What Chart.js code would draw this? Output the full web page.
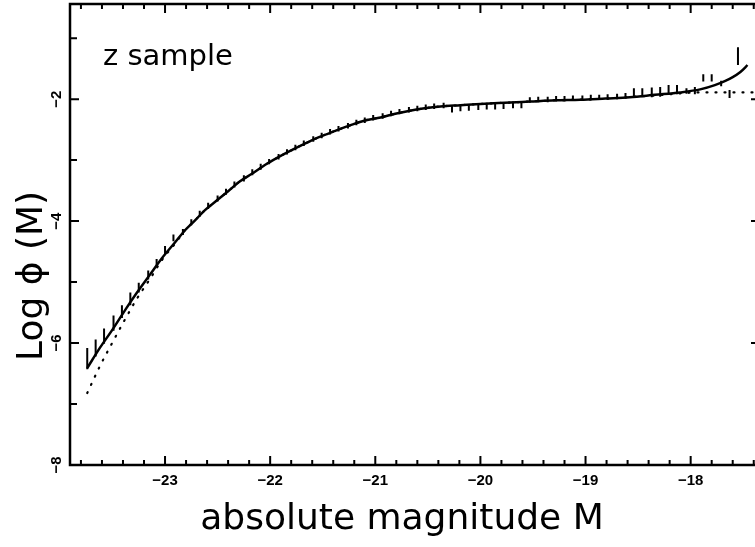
<!DOCTYPE html>
<html>
<head>
<meta charset="utf-8">
<script src="https://cdn.jsdelivr.net/npm/chart.js@4"></script>
<style>
  html, body { margin: 0; padding: 0; background: #fff; }
</style>
</head>
<body>
<canvas id="lf" width="755" height="547"></canvas>
<script>
// binned luminosity function, each bin drawn as a vertical error bar low -> high
const binMag = [-23.74, -23.66, -23.58, -23.49, -23.41, -23.33, -23.25, -23.16, -23.08, -23.00,
  -22.92, -22.83, -22.75, -22.67, -22.59, -22.50, -22.42, -22.34, -22.25, -22.17,
  -22.09, -22.01, -21.92, -21.84, -21.76, -21.68, -21.59, -21.51, -21.43, -21.35,
  -21.26, -21.18, -21.10, -21.02, -20.93, -20.85, -20.77, -20.68, -20.60, -20.52,
  -20.44, -20.35, -20.27, -20.19, -20.11, -20.02, -19.94, -19.86, -19.78, -19.69,
  -19.61, -19.53, -19.45, -19.36, -19.28, -19.20, -19.12, -19.03, -18.95, -18.87,
  -18.79, -18.70, -18.62, -18.54, -18.46, -18.37, -18.29, -18.21, -18.13, -18.04,
  -17.96, -17.88, -17.80, -17.71, -17.63, -17.55];
const binLow = [-6.43, -6.22, -6.01, -5.80, -5.59, -5.38, -5.17, -4.96, -4.75, -4.54,
  -4.33, -4.23, -4.07, -3.93, -3.80, -3.68, -3.57, -3.45, -3.35, -3.25,
  -3.16, -3.07, -2.99, -2.91, -2.84, -2.77, -2.70, -2.64, -2.58, -2.53,
  -2.48, -2.43, -2.39, -2.35, -2.32, -2.28, -2.25, -2.22, -2.20, -2.18,
  -2.16, -2.15, -2.22, -2.20, -2.19, -2.18, -2.17, -2.17, -2.16, -2.15,
  -2.15, -2.06, -2.05, -2.05, -2.04, -2.04, -2.03, -2.03, -2.02, -2.01,
  -2.01, -2.00, -1.99, -1.98, -1.97, -1.97, -1.96, -1.93, -1.92, -1.91,
  -1.92, -1.71, -1.71, -1.79, -1.98, -1.44];
const binHigh = [-6.08, -5.94, -5.76, -5.55, -5.38, -5.17, -5.01, -4.81, -4.62, -4.41,
  -4.22, -4.13, -3.97, -3.83, -3.70, -3.58, -3.47, -3.35, -3.25, -3.15,
  -3.06, -2.98, -2.90, -2.82, -2.75, -2.68, -2.61, -2.55, -2.49, -2.44,
  -2.39, -2.34, -2.30, -2.26, -2.23, -2.19, -2.16, -2.13, -2.11, -2.09,
  -2.07, -2.06, -2.11, -2.09, -2.08, -2.07, -2.06, -2.06, -2.05, -2.04,
  -2.04, -1.97, -1.96, -1.96, -1.95, -1.95, -1.94, -1.94, -1.93, -1.93,
  -1.92, -1.91, -1.90, -1.82, -1.82, -1.81, -1.80, -1.77, -1.77, -1.82,
  -1.80, -1.59, -1.59, -1.70, -1.85, -1.15];

// solid fit
const fitMag = [-23.74, -23.62, -23.50, -23.38, -23.27, -23.14, -23.03, -22.90, -22.81, -22.71,
  -22.62, -22.52, -22.40, -22.29, -22.17, -22.05, -21.93, -21.81, -21.67, -21.53,
  -21.38, -21.24, -21.10, -20.95, -20.81, -20.67, -20.53, -20.38, -20.19, -20.00,
  -19.77, -19.53, -19.29, -19.05, -18.81, -18.58, -18.34, -18.10, -17.91, -17.77,
  -17.67, -17.60, -17.53, -17.48, -17.46];
const fitLogPhi = [-6.41, -6.08, -5.78, -5.46, -5.18, -4.87, -4.61, -4.34, -4.15, -3.98,
  -3.82, -3.68, -3.51, -3.35, -3.22, -3.08, -2.96, -2.85, -2.73, -2.62,
  -2.52, -2.43, -2.35, -2.30, -2.24, -2.19, -2.15, -2.12, -2.10, -2.08,
  -2.06, -2.04, -2.02, -2.01, -1.99, -1.97, -1.93, -1.89, -1.84, -1.77,
  -1.70, -1.64, -1.56, -1.48, -1.44];

// dotted fit
const dotMag = [-23.74, -23.62, -23.50, -23.38, -23.27, -23.14, -23.03, -22.90, -22.81, -22.71,
  -22.62, -22.52, -22.40, -22.29, -22.17, -22.05, -21.93, -21.81, -21.67, -21.53,
  -21.38, -21.24, -21.10, -20.95, -20.81, -20.67, -20.53, -20.38, -20.19, -20.00,
  -19.77, -19.53, -19.29, -19.05, -18.81, -18.34, -17.91, -17.41];
const dotLogPhi = [-6.82, -6.38, -5.99, -5.61, -5.28, -4.94, -4.64, -4.36, -4.15, -3.98,
  -3.82, -3.68, -3.51, -3.35, -3.22, -3.08, -2.96, -2.85, -2.73, -2.62,
  -2.52, -2.43, -2.35, -2.30, -2.24, -2.19, -2.15, -2.12, -2.10, -2.08,
  -2.06, -2.04, -2.02, -2.01, -1.99, -1.94, -1.89, -1.89];

const xLabels = [-23, -22, -21, -20, -19, -18];
const yLabels = [-2, -4, -6, -8];

function toPoints(xs, ys) {
  return xs.map((m, i) => ({ x: m, y: ys[i] }));
}

// error bars as separate segments, broken by null points
const barPoints = [];
binMag.forEach((m, i) => {
  barPoints.push({ x: m, y: binLow[i] });
  barPoints.push({ x: m, y: binHigh[i] });
  barPoints.push({ x: m, y: null });
});

function minus(v) {
  return (v < 0 ? '\u2212' : '') + Math.abs(v);
}

// box, inward ticks, labels and titles
const framePlugin = {
  id: 'frame',
  afterDraw(chart) {
    const ctx = chart.ctx;
    const a = chart.chartArea;
    const xs = chart.scales.x;
    const ys = chart.scales.y;
    const right = a.right + 6;
    ctx.save();
    ctx.strokeStyle = '#000';
    ctx.fillStyle = '#000';
    ctx.lineWidth = 2.5;
    ctx.beginPath();
    ctx.moveTo(right, a.top);
    ctx.lineTo(a.left, a.top);
    ctx.lineTo(a.left, a.bottom);
    ctx.lineTo(right, a.bottom);
    ctx.stroke();

    ctx.lineWidth = 2;
    ctx.beginPath();
    for (let k = -119; k <= -87; k++) {
      const px = xs.getPixelForValue(k / 5);
      if (px < a.left + 1 || px > right) continue;
      const len = k % 5 === 0 ? 9 : 5;
      ctx.moveTo(px, a.bottom);
      ctx.lineTo(px, a.bottom - len);
      ctx.moveTo(px, a.top);
      ctx.lineTo(px, a.top + len);
    }
    for (let v = -7; v <= -1; v++) {
      const py = ys.getPixelForValue(v);
      const major = v % 2 === 0;
      ctx.moveTo(a.left, py);
      ctx.lineTo(a.left + (major ? 9 : 7), py);
      if (major) {
        ctx.moveTo(right, py);
        ctx.lineTo(right - 10, py);
      }
    }
    ctx.stroke();

    ctx.font = 'bold 15px "Liberation Sans", Arial, sans-serif';
    ctx.textAlign = 'center';
    ctx.textBaseline = 'middle';
    xLabels.forEach(v => {
      ctx.fillText(minus(v), xs.getPixelForValue(v), 481);
    });
    yLabels.forEach(v => {
      ctx.save();
      ctx.translate(57, ys.getPixelForValue(v));
      ctx.rotate(-Math.PI / 2);
      ctx.fillText(minus(v), 0, 0);
      ctx.restore();
    });

    ctx.textBaseline = 'alphabetic';
    ctx.font = '36px "DejaVu Sans", sans-serif';
    ctx.fillText('absolute magnitude M', 402, 529);

    ctx.save();
    ctx.translate(42, 276);
    ctx.rotate(-Math.PI / 2);
    ctx.fillText('Log \u03D5 (M)', 0, 0);
    ctx.restore();

    ctx.textAlign = 'left';
    ctx.font = '29px "DejaVu Sans", sans-serif';
    ctx.fillText('z sample', 103, 65);
    ctx.restore();
  }
};

new Chart(document.getElementById('lf'), {
  type: 'scatter',
  data: {
    datasets: [
      {
        label: 'fit',
        data: toPoints(fitMag, fitLogPhi),
        showLine: true,
        borderColor: '#000',
        borderWidth: 2.5,
        pointRadius: 0,
        cubicInterpolationMode: 'monotone',
        order: 1
      },
      {
        label: 'dotted',
        data: toPoints(dotMag, dotLogPhi),
        showLine: true,
        borderColor: '#000',
        borderWidth: 2.2,
        borderDash: [1, 8],
        borderCapStyle: 'round',
        pointRadius: 0,
        cubicInterpolationMode: 'monotone',
        order: 2
      },
      {
        label: 'data',
        data: barPoints,
        showLine: true,
        spanGaps: false,
        borderColor: '#000',
        borderWidth: 2,
        pointRadius: 0,
        order: 3
      }
    ]
  },
  options: {
    responsive: false,
    animation: false,
    devicePixelRatio: 1,
    layout: { padding: { left: 70, right: 0, top: 4, bottom: 82 } },
    plugins: { legend: { display: false }, tooltip: { enabled: false } },
    scales: {
      x: { type: 'linear', min: -23.904, max: -17.388, display: false },
      y: { type: 'linear', min: -8, max: -0.44, display: false }
    }
  },
  plugins: [framePlugin]
});
</script>
</body>
</html>
